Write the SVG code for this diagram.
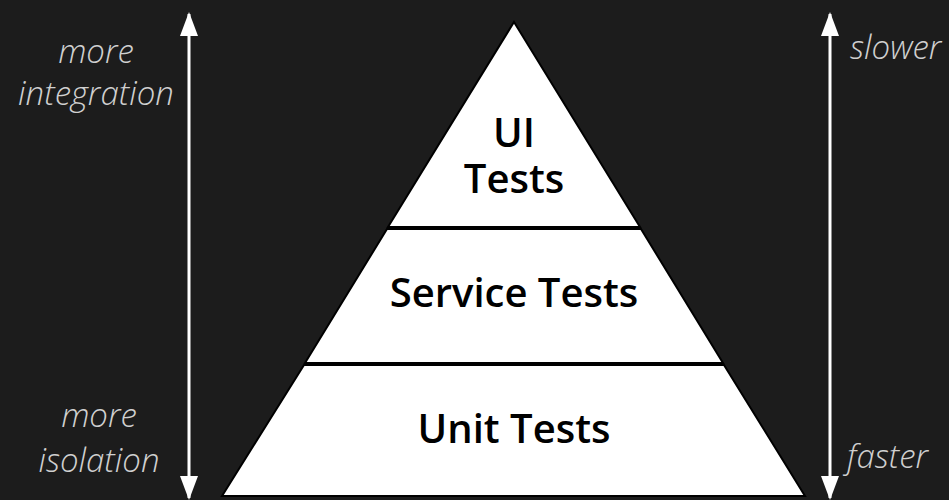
<svg xmlns="http://www.w3.org/2000/svg" width="949" height="500" viewBox="0 0 949 500">
<defs>
<style>
.lbl{font-family:"Open Sans","Liberation Sans",sans-serif;font-style:italic;font-weight:300;font-size:33px;fill:#d0d0d0}
.tier{fill:#ffffff;stroke:#000000;stroke-width:2}
.tt{font-family:"Open Sans","Liberation Sans",sans-serif;font-weight:600;font-size:40px;fill:#000000;text-anchor:middle}
.ax{stroke:#ffffff;stroke-width:3;fill:none}
</style>
<marker id="ah" viewBox="0 0 24 18" refX="22" refY="9" markerWidth="24" markerHeight="18" markerUnits="userSpaceOnUse" orient="auto-start-reverse">
<path d="M0,0 L24,9 L0,18 Z" fill="#ffffff"/>
</marker>
</defs>
<rect width="949" height="500" fill="#1c1c1c"/>
<g id="connectors">
<line class="ax" x1="189" y1="14" x2="189" y2="498" marker-start="url(#ah)" marker-end="url(#ah)"/>
<line class="ax" x1="830" y1="14" x2="830" y2="498" marker-start="url(#ah)" marker-end="url(#ah)"/>
</g>
<g id="ui-tests">
<polygon class="tier" points="514,22 640,227 388,227"/>
<text class="tt" x="514" y="147">UI</text>
<text class="tt" x="514" y="193">Tests</text>
</g>
<g id="service-tests">
<polygon class="tier" points="387,229 641,229 723,363 305,363"/>
<text class="tt" x="514" y="307">Service Tests</text>
</g>
<g id="unit-tests">
<polygon class="tier" points="304,365 724,365 805,496 222,496"/>
<text class="tt" x="514" y="443">Unit Tests</text>
</g>
<g id="labels">
<text class="lbl" x="96" y="63" text-anchor="middle">more</text>
<text class="lbl" x="96" y="105" text-anchor="middle">integration</text>
<text class="lbl" x="99" y="427" text-anchor="middle">more</text>
<text class="lbl" x="99" y="472" text-anchor="middle">isolation</text>
<text class="lbl" x="850" y="59">slower</text>
<text class="lbl" x="847" y="468">faster</text>
</g>
</svg>
